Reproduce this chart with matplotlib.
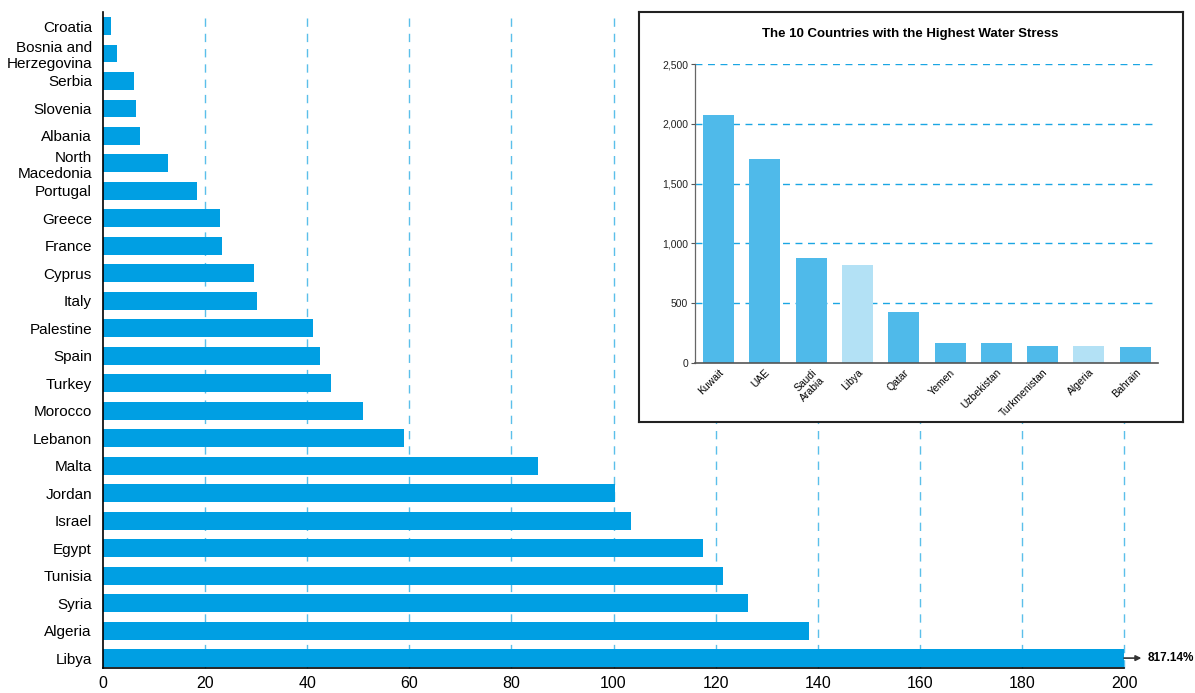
import numpy as np
import matplotlib
matplotlib.use('Agg')
from matplotlib import pyplot as plt

plt.rcParams['font.family'] = ['Liberation Sans', 'DejaVu Sans']

# main chart: water stress (%) by country, top to bottom
countries = ['Croatia', 'Bosnia and\nHerzegovina', 'Serbia', 'Slovenia', 'Albania',
             'North\nMacedonia', 'Portugal', 'Greece', 'France', 'Cyprus', 'Italy',
             'Palestine', 'Spain', 'Turkey', 'Morocco', 'Lebanon', 'Malta', 'Jordan',
             'Israel', 'Egypt', 'Tunisia', 'Syria', 'Algeria', 'Libya']
stress = [1.6, 2.7, 6.1, 6.5, 7.3, 12.7, 18.4, 22.9, 23.3, 29.6, 30.2, 41.2, 42.5,
          44.7, 51.0, 59.0, 85.3, 100.2, 103.5, 117.5, 121.4, 126.3, 138.2, 817.14]
x_ticks = [0, 20, 40, 60, 80, 100, 120, 140, 160, 180, 200]
x_max = 200
libya_label = '817.14%'

# inset: top 10 countries
top_countries = ['Kuwait', 'UAE', 'Saudi\nArabia', 'Libya', 'Qatar', 'Yemen',
                 'Uzbekistan', 'Turkmenistan', 'Algeria', 'Bahrain']
top_stress = [2074, 1706, 878, 817, 426, 167, 167, 142, 138, 134]
top_highlight = [False, False, False, True, False, False, False, False, True, False]
inset_title = 'The 10 Countries with the Highest Water Stress'

bar_color = '#009fe3'
grid_color = '#5bbfea'

fig = plt.figure(figsize=(11.95, 6.93), dpi=100)
ax = fig.add_axes([0.0862, 0.0361, 0.8544, 0.9466])

pos = np.arange(len(countries))
ax.barh(pos, np.minimum(stress, x_max), height=0.65, color=bar_color, zorder=2)
ax.set_ylim(len(countries) - 1 + 0.36, -0.51)
ax.set_xlim(0, x_max)
ax.set_yticks(pos)
ax.set_yticklabels(countries, fontsize=11, linespacing=1.15)
ax.set_xticks(x_ticks)
ax.set_xticklabels([str(t) for t in x_ticks], fontsize=11.5)
ax.tick_params(axis='both', length=0, pad=8)
ax.tick_params(axis='x', pad=6)
for t in x_ticks[1:]:
    ax.axvline(t, color=grid_color, lw=1, ls=(0, (6, 5)), zorder=1, clip_on=False)
for s in ['top', 'right']:
    ax.spines[s].set_visible(False)
for s in ['left', 'bottom']:
    ax.spines[s].set_color('black')
    ax.spines[s].set_linewidth(1.2)

# overflow arrow for Libya
ax.annotate('', xy=(203.4, pos[-1]), xytext=(x_max, pos[-1]),
            arrowprops=dict(arrowstyle='-|>', color='#333333', lw=1.2,
                            mutation_scale=8, shrinkA=0, shrinkB=0),
            annotation_clip=False)
ax.text(204.6, pos[-1], libya_label, fontsize=8.5, fontweight='bold',
        va='center', ha='left', clip_on=False)

# inset frame
frame = fig.add_axes([0.5347, 0.391, 0.4553, 0.5916])
frame.set_xticks([])
frame.set_yticks([])
frame.set_facecolor('white')
for s in frame.spines.values():
    s.set_color('#222222')
    s.set_linewidth(1.5)
frame.set_zorder(3)
fig.text(0.7615, 0.951, inset_title, fontsize=9.5, fontweight='bold',
         ha='center', va='center', zorder=5)

ins = fig.add_axes([0.5816, 0.4762, 0.3874, 0.4314])
ins.set_zorder(4)
ins.patch.set_alpha(0)
ipos = np.arange(len(top_countries))
icolors = ['#b3e1f5' if h else '#4fbaea' for h in top_highlight]
ins.bar(ipos, top_stress, width=0.67, color=icolors, zorder=2)
ins.set_xlim(-0.51, len(top_countries) - 0.51)
ins.set_ylim(0, 2500)
yt = [0, 500, 1000, 1500, 2000, 2500]
ins.set_yticks(yt)
ins.set_yticklabels(['{:,}'.format(v) for v in yt], fontsize=7.5, color='#222222')
for v in yt[1:]:
    ins.axhline(v, color='#1ba6e3', lw=1, ls=(0, (5, 4)), zorder=1)
ins.set_xticks(ipos)
ins.set_xticklabels(top_countries, rotation=45, ha='right', va='top',
                    rotation_mode='anchor', fontsize=7.5, linespacing=1.2)
ins.tick_params(axis='x', length=0, pad=3)
ins.tick_params(axis='y', length=3, width=0.8, pad=2, color='#555555')
for s in ['top', 'right']:
    ins.spines[s].set_visible(False)
ins.spines['left'].set_color('#666666')
ins.spines['left'].set_linewidth(0.9)
ins.spines['bottom'].set_color('#555555')
ins.spines['bottom'].set_linewidth(1.2)

fig.savefig('out.png', dpi=100)
